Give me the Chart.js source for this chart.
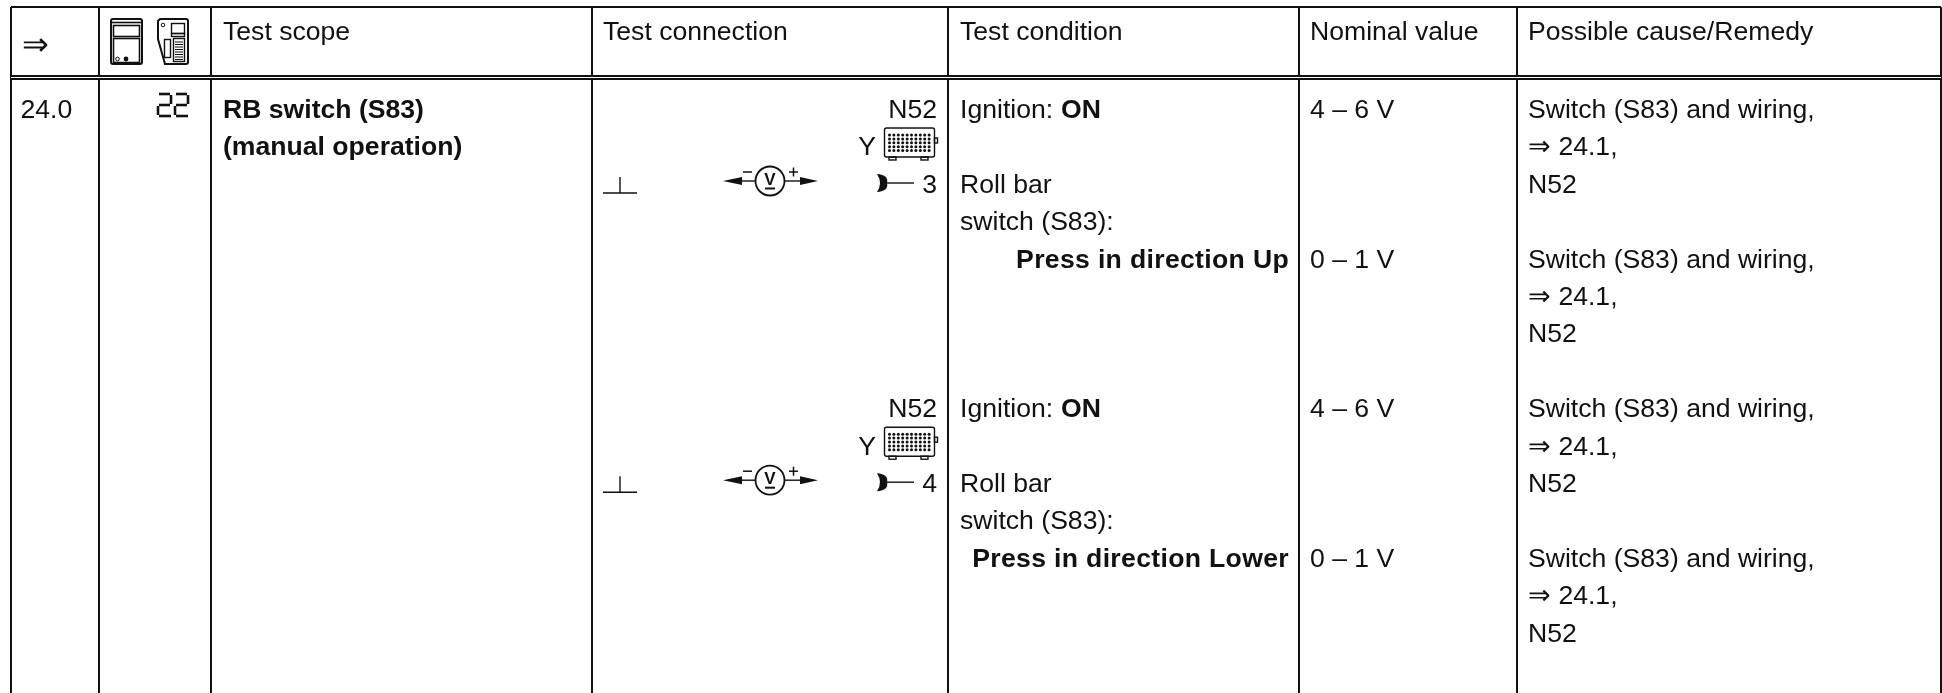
<!DOCTYPE html>
<html>
<head>
<meta charset="utf-8">
<title>Test table</title>
<script src="https://cdn.jsdelivr.net/npm/chart.js@4"></script>
<style>
html, body { margin: 0; padding: 0; background: #fff; }
canvas { display: block; }
</style>
</head>
<body>
<canvas id="grafico_tabla" width="1942" height="693"></canvas>
<script>
// table content
const headers = ['', '', 'Test scope', 'Test connection', 'Test condition', 'Nominal value', 'Possible cause/Remedy']
const headerArrow = '⇒'
const stepNumber = '24.0'
const scopeLines = ['RB switch (S83)', '(manual operation)']
const connectorName = 'N52'
const connectorSide = 'Y'
const pinNumbers = ['3', '4']
const blockStart = [0, 8]
const conditionOn = ['Ignition: ', 'ON']
const conditionLines = ['Roll bar', 'switch (S83):']
const pressLines = ['Press in direction Up', 'Press in direction Lower']
const nominalValues = ['4 – 6 V', '0 – 1 V', '4 – 6 V', '0 – 1 V']
const remedyStart = [0, 4, 8, 12]
const remedyLines = ['Switch (S83) and wiring,', '⇒ 24.1,', 'N52']

// rules of the table, they are the ticks of both axes
const columnRules = [11, 99, 211, 592, 948, 1299, 1517, 1941]
const rowRules = [7, 76, 79]

const firstBaseline = 118
const lineStep = 37.4
const headerBaseline = 40
const textX = [20.5, 0, 223, 603, 960, 1310, 1528]
const FONT = '"Liberation Sans", Arial, sans-serif'
const INK = '#111'

function lineY(n) {
    return firstBaseline + n * lineStep
}

/*********************************************
*       CELLS AS POINTS OF THE CHART
**********************************************/
const plain = [], plainRight = [], bold = [], boldRight = []

function cell(list, x, y, text, extra) {
    list.push(Object.assign({ x: x, y: y, text: text }, extra))
}

cell(plain, 22, 55, headerArrow, { size: 32 })
headers.forEach((h, i) => { if (h) cell(plain, textX[i], headerBaseline, h) })
cell(plain, textX[0], lineY(0), stepNumber)
scopeLines.forEach((t, i) => cell(bold, textX[2], lineY(i), t))

blockStart.forEach((start, i) => {
    cell(plainRight, 937, lineY(start), connectorName)
    cell(plainRight, 876, lineY(start + 1), connectorSide)
    cell(plainRight, 937, lineY(start + 2), pinNumbers[i])
    cell(plain, textX[4], lineY(start), conditionOn[0])
    cell(bold, textX[4] + 101, lineY(start), conditionOn[1])
    conditionLines.forEach((t, j) => cell(plain, textX[4], lineY(start + 2 + j), t))
    cell(boldRight, 1289, lineY(start + 4), pressLines[i], { spacing: '0.33px' })
})

nominalValues.forEach((t, i) => cell(plain, textX[5], lineY(remedyStart[i]), t))
remedyStart.forEach(start => {
    remedyLines.forEach((t, j) => cell(plain, textX[6], lineY(start + j), t))
})

function cellDataset(data, weight, align) {
    return { data: data, weight: weight, align: align, pointRadius: 0, showLine: false }
}

/*********************************************
*       SMALL DRAWN SYMBOLS
**********************************************/
function line(ctx, x1, y1, x2, y2, w) {
    ctx.lineWidth = w
    ctx.beginPath()
    ctx.moveTo(x1, y1)
    ctx.lineTo(x2, y2)
    ctx.stroke()
}

function roundBox(ctx, x, y, w, h, r, lw) {
    ctx.lineWidth = lw
    ctx.beginPath()
    ctx.roundRect(x, y, w, h, r)
    ctx.stroke()
}

function meterIcon(ctx, x, y) {
    roundBox(ctx, x, y, 31, 45, 2, 2)
    line(ctx, x + 1, y + 3.5, x + 30, y + 3.5, 1.6)
    ctx.lineWidth = 1.6
    ctx.strokeRect(x + 2.5, y + 6.5, 26, 11)
    ctx.strokeRect(x + 2.5, y + 19.5, 26, 24)
    ctx.lineWidth = 1
    ctx.beginPath(); ctx.arc(x + 6.5, y + 40, 1.8, 0, 7); ctx.stroke()
    ctx.beginPath(); ctx.arc(x + 15, y + 40, 2.4, 0, 7); ctx.fill()
}

function testerIcon(ctx, x, y) {
    ctx.lineWidth = 2
    ctx.beginPath()
    ctx.moveTo(x + 2, y)
    ctx.lineTo(x + 28, y)
    ctx.quadraticCurveTo(x + 30, y, x + 30, y + 2)
    ctx.lineTo(x + 30, y + 43)
    ctx.quadraticCurveTo(x + 30, y + 45, x + 28, y + 45)
    ctx.lineTo(x + 7, y + 45)
    ctx.lineTo(x, y + 20)
    ctx.lineTo(x, y + 2)
    ctx.closePath()
    ctx.stroke()
    ctx.lineWidth = 1
    ctx.beginPath(); ctx.arc(x + 5, y + 6, 1.8, 0, 7); ctx.stroke()
    ctx.lineWidth = 1.4
    ctx.strokeRect(x + 13.5, y + 4.5, 13, 10)
    ctx.strokeRect(x + 13.5, y + 14.5, 13, 3)
    ctx.strokeRect(x + 6.5, y + 20.5, 6, 18)
    ctx.strokeRect(x + 15.5, y + 19.5, 11, 23)
    for (let r = 0; r < 8; r++) line(ctx, x + 17, y + 23 + r * 2.5, x + 25, y + 23 + r * 2.5, 1)
}

function digitTwo(ctx, x, y) {
    line(ctx, x + 1, y, x + 12, y, 2.6)
    line(ctx, x + 13, y + 1, x + 13, y + 10, 2.6)
    line(ctx, x + 1, y + 11, x + 12, y + 11, 2.6)
    line(ctx, x, y + 12, x, y + 21, 2.6)
    line(ctx, x + 1, y + 22, x + 13, y + 22, 2.6)
}

function groundSymbol(ctx, y) {
    line(ctx, 603, y, 637, y, 1.4)
    line(ctx, 620, y - 16, 620, y, 1.4)
}

function voltmeter(ctx, y) {
    const cx = 770
    line(ctx, 740, y, 755, y, 1.4)
    line(ctx, 785, y, 802, y, 1.4)
    ctx.beginPath(); ctx.moveTo(723, y); ctx.lineTo(742, y - 4); ctx.lineTo(742, y + 4); ctx.closePath(); ctx.fill()
    ctx.beginPath(); ctx.moveTo(818, y); ctx.lineTo(800, y - 4); ctx.lineTo(800, y + 4); ctx.closePath(); ctx.fill()
    ctx.lineWidth = 1.8
    ctx.beginPath(); ctx.arc(cx, y, 14.5, 0, 7); ctx.stroke()
    line(ctx, 743, y - 9, 752, y - 9, 1.5)
    line(ctx, 789, y - 9, 798, y - 9, 1.5)
    line(ctx, 793.5, y - 13.5, 793.5, y - 4.5, 1.5)
    ctx.font = 'bold 17px ' + FONT
    ctx.textAlign = 'center'
    ctx.fillText('V', cx, y + 3.5)
    line(ctx, cx - 5, y + 7.5, cx + 5, y + 7.5, 2)
}

function connector(ctx, y) {
    roundBox(ctx, 884.5, y, 50, 29, 2, 1.4)
    ctx.strokeRect(934.5, y + 10, 3, 5)
    ctx.strokeRect(889, y + 29, 7, 3)
    ctx.strokeRect(921, y + 29, 7, 3)
    for (let r = 0; r < 5; r++) {
        for (let c = 0; c < 10; c++) {
            ctx.beginPath()
            ctx.arc(889.5 + c * 4.4, y + 7 + r * 3.9, 1.5, 0, 7)
            ctx.fill()
        }
    }
}

function pinSymbol(ctx, y) {
    ctx.beginPath()
    ctx.moveTo(877, y - 9)
    ctx.quadraticCurveTo(889, y - 8, 887, y)
    ctx.quadraticCurveTo(889, y + 8, 877, y + 9)
    ctx.quadraticCurveTo(883, y, 877, y - 9)
    ctx.fill()
    line(ctx, 886, y, 914, y, 1.4)
}

/*********************************************
*       PLUGIN THAT WRITES THE CELLS
**********************************************/
const tablePlugin = {
    id: 'tablePlugin',
    afterDatasetsDraw(chart) {
        const ctx = chart.ctx
        const yScale = chart.scales.y
        ctx.save()

        // the double rule keeps its gap clear of the column rules
        ctx.fillStyle = '#fff'
        ctx.fillRect(11, yScale.getPixelForValue(77), 1930, 1)

        ctx.fillStyle = INK
        ctx.strokeStyle = INK
        ctx.textBaseline = 'alphabetic'

        chart.data.datasets.forEach((ds, d) => {
            ctx.textAlign = ds.align
            chart.getDatasetMeta(d).data.forEach((pt, i) => {
                ctx.font = ds.weight + ' ' + (ds.data[i].size || 26.6) + 'px ' + FONT
                ctx.letterSpacing = ds.data[i].spacing || '0px'
                ctx.fillText(ds.data[i].text, pt.x, pt.y)
            })
        })
        ctx.letterSpacing = '0px'

        meterIcon(ctx, 111, 19)
        testerIcon(ctx, 158, 19)
        digitTwo(ctx, 158, 94)
        digitTwo(ctx, 175, 94)

        blockStart.forEach(start => {
            const base = yScale.getPixelForValue(lineY(start))
            groundSymbol(ctx, base + 75)
            voltmeter(ctx, base + 63)
            connector(ctx, base + 10)
            pinSymbol(ctx, base + 65)
        })
        ctx.restore()
    }
}

function ruleAxis(rules, reverse) {
    return {
        min: rules[0],
        max: reverse ? 693 : rules[rules.length - 1],
        reverse: reverse,
        afterBuildTicks: scale => { scale.ticks = rules.map(v => ({ value: v })) },
        ticks: { display: false },
        border: { display: false },
        grid: { color: INK, lineWidth: 2, drawTicks: false }
    }
}

new Chart(document.getElementById('grafico_tabla'), {
    type: 'scatter',
    data: {
        datasets: [
            cellDataset(plain, 'normal', 'left'),
            cellDataset(plainRight, 'normal', 'right'),
            cellDataset(bold, 'bold', 'left'),
            cellDataset(boldRight, 'bold', 'right')
        ]
    },
    options: {
        responsive: false,
        animation: false,
        layout: { padding: { left: 11, top: 7, right: 1, bottom: 0 } },
        scales: {
            x: ruleAxis(columnRules, false),
            y: ruleAxis(rowRules, true)
        },
        plugins: {
            legend: { display: false },
            tooltip: { enabled: false }
        }
    },
    plugins: [tablePlugin]
})
</script>
</body>
</html>
